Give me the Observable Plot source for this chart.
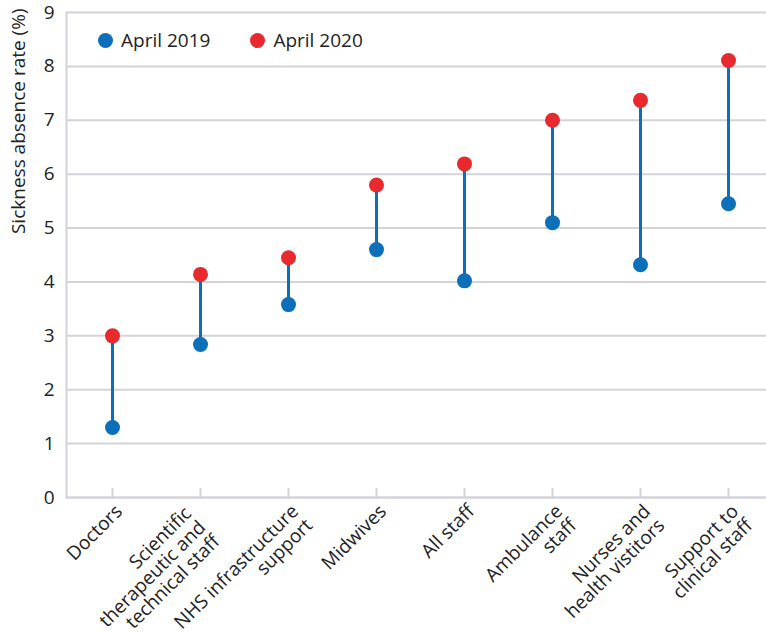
<!DOCTYPE html>
<html>
<head>
<meta charset="utf-8">
<script src="https://cdn.jsdelivr.net/npm/d3@7"></script>
<script src="https://cdn.jsdelivr.net/npm/@observablehq/plot@0.6"></script>
<style>
  body { margin: 0; background: #fff; }
  #wrap { position: relative; width: 766px; height: 633px; font-family: "Open Sans", sans-serif; }
  #legend { position: absolute; left: 98px; top: 27px; display: flex; gap: 40px; font-size: 19px; color: #222; }
  .item { display: flex; align-items: center; }
  .sw { width: 15px; height: 15px; border-radius: 50%; margin-right: 8px; }
</style>
</head>
<body>
<div id="wrap"></div>
<script>
const categories = [
  "Doctors",
  "Scientific\ntherapeutic and\ntechnical staff",
  "NHS infrastructure\nsupport",
  "Midwives",
  "All staff",
  "Ambulance\nstaff",
  "Nurses and\nhealth vistitors",
  "Support to\nclinical staff"
];
const april2019 = [1.30, 2.84, 3.58, 4.60, 4.02, 5.10, 4.32, 5.45];
const april2020 = [3.00, 4.14, 4.45, 5.80, 6.19, 7.00, 7.37, 8.11];
const seriesNames = ["April 2019", "April 2020"];
const seriesColors = ["#0b6fba", "#e8292e"];
const yTicks = [0, 1, 2, 3, 4, 5, 6, 7, 8, 9];

const rows = categories.map((c, i) => ({cat: c, a: april2019[i], b: april2020[i]}));
const grid = "#d3d3da";
const threeLine = categories.filter(c => c.split("\n").length > 2);
const others = categories.filter(c => c.split("\n").length <= 2);
const labelStyle = {tickSize: 0, tickPadding: 0, tickRotate: -45, lineAnchor: "top", fontSize: 19, lineHeight: 1.05, label: null};

const chart = Plot.plot({
  width: 766,
  height: 633,
  marginLeft: 66,
  marginRight: 0,
  marginTop: 12,
  marginBottom: 136,
  style: {fontFamily: "'Open Sans', sans-serif", fontSize: "19px", color: "#222", background: "#fff"},
  x: {type: "point", domain: categories, range: [112, 728], padding: 0, label: null},
  y: {domain: [0, 9], label: null},
  marks: [
    Plot.gridY(yTicks, {stroke: grid, strokeOpacity: 1, strokeWidth: 2}),
    Plot.frame({anchor: "left", stroke: grid, strokeWidth: 2}),
    Plot.frame({anchor: "bottom", stroke: grid, strokeWidth: 2}),
    Plot.axisY({ticks: yTicks, tickSize: 0, tickPadding: 12, fontSize: 19, label: null}),
    Plot.axisX({tickSize: 9, dy: -9, stroke: grid, strokeWidth: 2, tickFormat: () => "", label: null}),
    Plot.axisX(others, {...labelStyle, dx: 1, dy: 5}),
    Plot.axisX(threeLine, {...labelStyle, dx: -18, dy: 7}),
    Plot.text(["Sickness absence rate (%)"], {frameAnchor: "top-left", rotate: -90, textAnchor: "end", dx: -55, dy: -4, fontSize: 19, fill: "#222"}),
    Plot.ruleX(rows, {x: "cat", y1: "a", y2: "b", stroke: seriesColors[0], strokeWidth: 3}),
    Plot.dot(rows, {x: "cat", y: "a", r: 7.5, fill: seriesColors[0]}),
    Plot.dot(rows, {x: "cat", y: "b", r: 7.5, fill: seriesColors[1]})
  ]
});

const wrap = document.getElementById("wrap");
wrap.appendChild(chart);
const legend = document.createElement("div");
legend.id = "legend";
seriesNames.forEach((n, i) => {
  const it = document.createElement("div");
  it.className = "item";
  const sw = document.createElement("span");
  sw.className = "sw";
  sw.style.background = seriesColors[i];
  it.appendChild(sw);
  it.appendChild(document.createTextNode(n));
  legend.appendChild(it);
});
wrap.appendChild(legend);
</script>
</body>
</html>
